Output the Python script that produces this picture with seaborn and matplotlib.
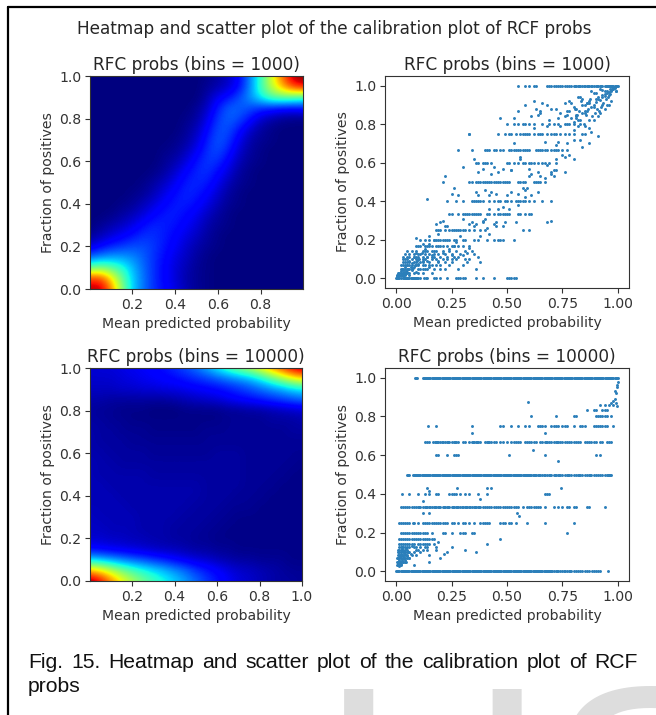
import numpy as np
import seaborn as sns
import matplotlib
matplotlib.use("Agg")
import matplotlib.pyplot as plt
from matplotlib.lines import Line2D

W, H = 656, 715

# ---- heat values read at x = 0, .05 ... 1 (columns), y = 0, .05 ... 1 (rows)
heat_1000 = [
 [.95,.95,.78,.52,.33,.24,.17,.13,.09,.05,.02,.01,0,0,0,0,0,0,0,0,0],
 [.85,.85,.68,.48,.33,.24,.17,.12,.08,.04,.02,.01,0,0,0,0,0,0,0,0,0],
 [.47,.50,.46,.40,.31,.23,.17,.12,.08,.05,.02,.01,0,0,0,0,0,0,0,0,0],
 [.22,.26,.28,.28,.26,.22,.17,.13,.09,.06,.03,.01,0,0,0,0,0,0,0,0,0],
 [.08,.12,.16,.18,.20,.20,.18,.14,.11,.07,.04,.02,.01,0,0,0,0,0,0,0,0],
 [.02,.05,.08,.11,.14,.17,.17,.15,.12,.09,.06,.03,.01,0,0,0,0,0,0,0,0],
 [0,.02,.04,.06,.09,.13,.16,.15,.14,.11,.08,.04,.02,.01,0,0,0,0,0,0,0],
 [0,0,.01,.03,.05,.08,.12,.15,.15,.13,.10,.06,.03,.01,0,0,0,0,0,0,0],
 [0,0,0,.01,.02,.05,.08,.12,.15,.15,.13,.09,.05,.02,.01,0,0,0,0,0,0],
 [0,0,0,0,.01,.02,.05,.09,.13,.16,.15,.12,.07,.03,.01,0,0,0,0,0,0],
 [0,0,0,0,0,.01,.03,.06,.10,.15,.16,.15,.10,.05,.02,.01,0,0,0,0,0],
 [0,0,0,0,0,0,.01,.03,.07,.12,.16,.17,.13,.08,.03,.01,0,0,0,0,0],
 [0,0,0,0,0,0,0,.02,.04,.08,.14,.18,.17,.11,.05,.02,.01,0,0,0,0],
 [0,0,0,0,0,0,0,.01,.02,.05,.10,.17,.20,.15,.07,.03,.01,0,0,0,0],
 [0,0,0,0,0,0,0,0,.01,.03,.07,.15,.21,.18,.10,.04,.02,.01,0,0,0],
 [0,0,0,0,0,0,0,0,0,.02,.05,.12,.20,.20,.14,.07,.03,.01,0,0,0],
 [0,0,0,0,0,0,0,0,0,.01,.03,.09,.18,.22,.20,.14,.07,.04,.02,.01,.01],
 [0,0,0,0,0,0,0,0,0,0,.02,.06,.15,.22,.22,.20,.17,.15,.13,.13,.14],
 [0,0,0,0,0,0,0,0,0,0,0,.04,.10,.14,.20,.27,.36,.45,.47,.45,.42],
 [0,0,0,0,0,0,0,0,0,0,0,.02,.04,.07,.13,.25,.42,.58,.72,.85,.90],
 [0,0,0,0,0,0,0,0,0,0,0,.01,.03,.06,.12,.25,.40,.60,.78,.95,1.00],
]
heat_10000 = [
 [1.00,.92,.78,.66,.56,.49,.43,.38,.33,.28,.23,.18,.14,.11,.08,.07,.05,.04,.03,.03,.02],
 [.72,.66,.58,.50,.44,.39,.35,.31,.27,.23,.18,.15,.12,.09,.07,.06,.05,.04,.03,.02,.02],
 [.33,.31,.28,.25,.22,.20,.17,.15,.12,.10,.08,.07,.05,.04,.03,.03,.02,.02,.02,.01,.01],
 [.12,.11,.10,.09,.08,.07,.06,.05,.05,.04,.03,.03,.02,.02,.01,.01,.01,.01,.01,.01,.01],
 [.07,.07,.06,.06,.05,.05,.04,.04,.03,.03,.02,.02,.01,.01,.01,.01,.01,.01,.01,.01,.01],
 [.06,.06,.05,.05,.05,.04,.04,.04,.03,.03,.03,.02,.02,.01,.01,.01,.01,.01,.01,.01,.01],
 [.06,.05,.05,.05,.05,.04,.04,.04,.04,.03,.03,.03,.02,.02,.01,.01,.01,.01,.01,.01,.01],
 [.05,.05,.05,.05,.04,.04,.04,.04,.04,.04,.03,.03,.03,.02,.02,.02,.01,.01,.01,.01,.01],
 [.05,.05,.05,.04,.04,.04,.04,.04,.04,.04,.04,.03,.03,.03,.02,.02,.02,.01,.01,.01,.01],
 [.05,.05,.04,.04,.04,.04,.04,.04,.04,.04,.04,.03,.03,.03,.03,.02,.02,.02,.01,.01,.01],
 [.05,.04,.04,.04,.04,.04,.03,.03,.03,.03,.03,.03,.03,.03,.03,.02,.02,.02,.02,.01,.01],
 [.05,.04,.04,.03,.03,.03,.03,.03,.03,.03,.03,.03,.03,.03,.03,.02,.02,.02,.02,.02,.01],
 [.04,.04,.03,.03,.03,.03,.02,.02,.02,.02,.02,.02,.03,.03,.03,.02,.02,.02,.02,.02,.02],
 [.04,.03,.03,.03,.02,.02,.02,.02,.02,.02,.02,.02,.02,.02,.02,.02,.02,.02,.02,.02,.02],
 [.04,.03,.03,.02,.02,.02,.01,.01,.01,.01,.01,.02,.02,.02,.02,.02,.02,.02,.02,.03,.03],
 [.03,.03,.02,.02,.01,.01,.01,.01,.01,.01,.01,.01,.01,.02,.02,.02,.02,.03,.03,.03,.04],
 [.03,.02,.02,.01,.01,.01,0,0,0,.01,.01,.01,.01,.02,.02,.03,.03,.04,.05,.06,.07],
 [.04,.04,.03,.03,.03,.03,.03,.03,.04,.05,.06,.07,.08,.10,.12,.13,.15,.17,.19,.21,.23],
 [.06,.06,.06,.07,.07,.08,.08,.09,.09,.10,.11,.12,.13,.15,.17,.20,.23,.26,.29,.33,.36],
 [.07,.07,.07,.08,.09,.10,.11,.12,.13,.15,.17,.19,.22,.25,.28,.31,.37,.46,.55,.64,.70],
 [.07,.08,.08,.09,.10,.11,.12,.14,.17,.20,.24,.30,.37,.45,.52,.58,.66,.76,.85,.94,1.00],
]

# ---- scatter, bins = 1000: x values by fraction level
a_levels = {
 1.0: [.55,.58,.6,.62,.63,.68,.69,.7,.71,.72,.73,.74,.75,.76,.77,.78,.79,.8,.805,.81,.82,.825,.83,.84,.845,.85,.86,.865,.87,.88,.885,.89,.9,.905,.91,.92,.925,.93,.94,.945,.95,.955,.96,.965,.97,.975,.98,.985,.99,.995,1.0],
 0.0: [0,.005,.01,.015,.02,.03,.035,.04,.045,.05,.055,.06,.065,.07,.075,.08,.085,.09,.095,.1,.11,.125,.135,.14,.17,.18,.2,.23,.27,.28,.29,.3,.31,.36,.39,.44,.5,.51,.52,.53,.54],
 .5: [.33,.34,.36,.37,.38,.39,.4,.41,.42,.43,.44,.45,.46,.47,.48,.49,.5,.51,.55,.56,.57,.58,.62,.63,.64,.65,.67],
 .333: [.24,.25,.28,.3,.31,.32,.33,.34,.35,.36,.37,.38,.41,.42,.44,.46,.47,.48,.49,.5,.51,.55,.56,.58,.6,.61],
 .667: [.28,.34,.4,.41,.42,.44,.45,.47,.48,.51,.52,.53,.54,.55,.56,.57,.58,.59,.6,.63,.64,.65,.66,.67,.68,.7,.71,.72,.73,.75,.77],
 .25: [.18,.19,.2,.22,.24,.25,.26,.27,.28,.29,.3,.31,.33,.35,.38,.4,.57,.6],
 .75: [.33,.46,.49,.51,.52,.54,.56,.57,.58,.59,.6,.62,.64,.65,.66,.68,.7,.71,.72,.74,.76,.78,.8,.84,.85],
 .4: [.23,.27,.3,.34,.35,.36,.37,.38,.39,.42,.44,.46,.47,.49,.5,.52,.54,.55,.56,.57,.58,.6,.62,.66,.7],
 .6: [.36,.37,.39,.4,.41,.43,.5,.51,.53,.55,.57,.58,.6,.61,.62,.64,.66,.67,.69,.72],
 .2: [.11,.13,.15,.17,.18,.19,.2,.21,.22,.23,.24,.26,.27,.3,.31,.35,.37,.41,.44,.46,.47,.48,.53],
 .8: [.5,.53,.55,.57,.58,.6,.62,.66,.69,.71,.73,.76,.78,.8,.83],
 .167: [.09,.1,.11,.13,.14,.15,.16,.18,.19,.2,.23,.25,.26,.28,.3,.33],
 .143: [.05,.07,.09,.12,.13,.14,.16,.17,.21,.24,.27,.31,.34],
 .125: [.04,.06,.08,.1,.11,.13,.15,.17,.19,.22,.25,.29,.35],
 .111: [.03,.05,.06,.08,.09,.1,.12,.14,.16,.2,.23,.26,.28,.37],
 .1: [.03,.04,.05,.07,.09,.1,.12,.13,.16,.18,.21,.25,.27,.31,.33],
 .083: [.03,.04,.05,.06,.08,.09,.11,.12,.15,.19,.22,.25,.32,.38],
 .067: [.02,.03,.04,.05,.06,.07,.09,.1,.13,.15,.18,.2,.24,.3],
 .05: [.02,.025,.03,.04,.05,.06,.07,.1,.12,.14,.17,.2,.22,.28,.36],
 .03: [.01,.015,.02,.03,.04,.05,.06,.08,.1,.12,.16],
 .015: [.005,.01,.015,.02,.025,.03,.04],
}
# ---- scatter, bins = 1000: off-level points
a_extra_x = [.14,.21,.22,.25,.28,.26,.3,.33,.35,.37,.39,.4,.43,.45,.47,.52,.55,.53,.58,.61,.63,.65,.68,.7,.71,.72,.67,.7,.44,.46,.42,.48,.52,.56,.6,.64,.68,.72,.76,.8,.84,.87,.91,.88,.85,.8,.75,.72,.78,.82,.86,.89,.92,.94,.96,.97,.93,.9,.87,.84,.81,.77,.73,.69,.65,.61,.58,.55,.62,.66,.7,.74,.78,.82,.86,.9,.94,.98,.96,.92,.88,.84,.8,.76,.72,.68,.64,.83,.87,.91,.95,.99,.97,.93,.89,.85,.81,.77,.09,.12,.15,.18,.21,.24,.27,.3,.33,.36,.39,.42,.45,.48,.16,.2,.23,.26,.29,.32,.35,.38,.41,.44,
 .005,.01,.015,.02,.025,.03,.035,.04,.045,.05,.055,.06,.065,.07,.075,.08,.085,.09,.095,.105,.115,.12,.13,.14,.15,.16,.17,.18,.19,.21,.22,.02,.03,.04,.05,.06,.07,.08,.09,.1,.11,.12,.13,.14,.15,.17,.19,.21,.23,.25,
 .985,.98,.975,.97,.965,.96,.955,.95,.945,.94,.935,.93,.925,.92,.915,.91,.905,.9,.895,.89,.885,.88,.875,.87,.865,.86,.855,.85,.845,.84,.835,.83,.825,.82,.815,.81,.805,.8,.79,.78,.77,.76,.99,.985,.975,.965,.95,.94,.93,.91,.89,.87,.85,.83,.81,.79,
 .34,.37,.4,.43,.46,.49,.52,.55,.58,.61,.64,.67,.7,.73,.76,.5,.53,.56,.59,.62,.65,.68,.71,.74,.77,.8,.3,.33,.36,.39,.42,.45,.48,.51,.54,.57,.6]
a_extra_y = [.41,.5,.53,.44,.43,.47,.58,.75,.62,.55,.57,.46,.54,.44,.83,.45,.44,.83,.42,.43,.88,.86,.29,.3,.53,.56,.52,.54,.58,.55,.43,.57,.56,.63,.57,.55,.59,.62,.55,.77,.68,.78,.74,.76,.79,.72,.64,.69,.64,.82,.87,.82,.86,.88,.9,.92,.94,.93,.91,.9,.85,.85,.83,.82,.87,.84,.9,.87,.92,.91,.88,.86,.92,.94,.91,.96,.97,.99,.95,.98,.97,.93,.89,.91,.88,.9,.85,.72,.7,.84,.9,.97,.97,.9,.89,.86,.83,.87,.21,.18,.22,.28,.3,.15,.19,.12,.16,.28,.3,.23,.29,.27,.07,.29,.27,.17,.22,.13,.27,.22,.26,.28,
 .01,.02,.012,.03,.02,.045,.035,.06,.04,.07,.05,.09,.06,.08,.055,.11,.07,.13,.09,.1,.13,.09,.15,.11,.18,.12,.2,.14,.23,.17,.27,.04,.01,.025,.035,.02,.045,.06,.035,.075,.05,.07,.05,.09,.06,.11,.09,.13,.1,.12,
 .99,.985,.98,.975,.955,.965,.94,.96,.93,.945,.91,.95,.89,.925,.87,.94,.88,.915,.86,.9,.84,.89,.93,.82,.88,.91,.85,.87,.8,.86,.92,.82,.87,.79,.85,.84,.88,.81,.83,.87,.8,.84,.97,.995,.995,.985,.97,.955,.975,.93,.96,.92,.9,.94,.88,.91,
 .29,.43,.31,.45,.36,.29,.56,.38,.46,.54,.45,.71,.55,.71,.63,.43,.7,.62,.47,.78,.53,.79,.56,.79,.7,.62,.31,.28,.45,.29,.36,.27,.37,.36,.29,.47,.53]

# ---- scatter, bins = 10000: x values by fraction level
b_levels = {
 1.0: [.085,.09,.095,.12,.125,.13,.135,.14,.145,.15,.155,.16,.165,.17,.175,.18,.185,.19,.195,.2,.205,.21,.215,.22,.225,.23,.235,.24,.245,.25,.255,.26,.265,.27,.275,.28,.285,.29,.295,.3,.305,.31,.315,.32,.325,.33,.335,.34,.345,.35,.355,.36,.365,.37,.375,.38,.385,.39,.395,.4,.405,.41,.415,.42,.425,.43,.435,.44,.445,.45,.455,.46,.465,.47,.475,.48,.485,.49,.495,.5,.505,.51,.515,.52,.525,.53,.535,.54,.545,.55,.555,.56,.565,.57,.575,.58,.585,.59,.595,.6,.605,.61,.615,.62,.625,.63,.635,.64,.645,.65,.655,.66,.665,.67,.675,.68,.685,.69,.695,.7,.705,.71,.715,.72,.725,.73,.735,.74,.745,.75,.755,.76,.765,.77,.775,.78,.785,.79,.795,.8,.805,.81,.815,.82,.825,.83,.835,.84,.845,.85,.855,.86,.865,.87,.875,.88,.885,.89,.895,.9,.905,.91,.915,.92,.925,.93,.935,.94,.945,.95,.955,.96,.965,.97,.975,.98,.985,.99,.995,1.0],
 0.0: [0,.005,.01,.015,.02,.025,.03,.035,.04,.045,.05,.055,.06,.065,.07,.075,.08,.085,.09,.095,.1,.105,.11,.115,.12,.125,.13,.135,.14,.145,.15,.155,.16,.165,.17,.175,.18,.185,.19,.195,.2,.205,.21,.215,.22,.225,.23,.235,.24,.245,.25,.255,.26,.265,.27,.275,.28,.285,.29,.295,.3,.305,.31,.315,.32,.325,.33,.335,.34,.345,.35,.355,.36,.365,.37,.375,.38,.385,.39,.395,.4,.405,.41,.415,.42,.425,.43,.435,.44,.445,.45,.455,.46,.465,.47,.475,.48,.485,.49,.495,.5,.505,.51,.515,.52,.525,.53,.535,.54,.545,.55,.555,.56,.565,.57,.575,.58,.585,.59,.595,.6,.605,.61,.615,.62,.625,.63,.635,.64,.645,.65,.655,.66,.665,.67,.675,.68,.685,.69,.695,.7,.705,.71,.72,.725,.73,.74,.75,.755,.76,.77,.78,.785,.79,.8,.81,.82,.83,.84,.85,.86,.87,.885,.89,.9,.91,.92,.955],
 .5: [.05,.055,.06,.075,.08,.085,.09,.095,.1,.105,.11,.115,.12,.125,.13,.135,.14,.145,.15,.155,.16,.165,.17,.175,.18,.185,.19,.195,.2,.205,.21,.215,.22,.225,.23,.235,.24,.245,.25,.255,.26,.265,.27,.275,.28,.285,.29,.295,.3,.305,.31,.315,.32,.325,.33,.335,.34,.345,.35,.355,.36,.365,.37,.375,.38,.385,.39,.395,.4,.405,.41,.415,.42,.425,.43,.435,.44,.445,.45,.455,.46,.465,.47,.475,.48,.485,.49,.495,.5,.505,.51,.515,.52,.525,.53,.535,.54,.545,.55,.555,.56,.565,.57,.575,.58,.585,.59,.595,.6,.605,.61,.615,.62,.625,.63,.64,.645,.65,.66,.665,.67,.68,.69,.695,.7,.71,.715,.72,.73,.735,.74,.75,.76,.77,.775,.78,.79,.8,.81,.82,.825,.83,.84,.85,.86,.87,.875,.88,.89,.9,.91,.92,.93,.94,.95,.955,.96,.965,.97],
 .667: [.13,.14,.15,.165,.175,.18,.185,.19,.2,.205,.21,.22,.23,.235,.24,.25,.26,.265,.27,.28,.3,.31,.33,.34,.345,.35,.36,.365,.37,.38,.4,.41,.415,.42,.43,.44,.45,.47,.48,.5,.52,.53,.54,.55,.56,.58,.59,.6,.61,.62,.63,.65,.66,.67,.675,.68,.69,.7,.71,.72,.725,.73,.74,.75,.76,.77,.78,.79,.8,.81,.82,.83,.85,.86,.87,.88,.89,.9,.92,.93,.95,.96,.97],
 .333: [.02,.03,.04,.05,.06,.07,.08,.09,.1,.105,.11,.12,.13,.135,.14,.15,.155,.16,.17,.175,.18,.19,.195,.2,.21,.215,.22,.23,.235,.24,.25,.255,.26,.27,.275,.28,.29,.295,.3,.31,.315,.32,.33,.335,.34,.35,.355,.36,.37,.375,.38,.39,.4,.41,.42,.43,.44,.45,.46,.47,.48,.49,.5,.51,.52,.53,.54,.55,.57,.59,.6,.61,.62,.63,.64,.65,.67,.71,.73,.75,.77,.78,.8,.81,.86,.87,.94],
 .25: [.015,.02,.03,.04,.05,.06,.075,.08,.1,.12,.13,.14,.15,.16,.17,.18,.19,.2,.21,.22,.23,.25,.26,.28,.3,.31,.33,.35,.38,.39,.4,.41,.42,.47,.48,.49,.51,.52,.54,.59,.67,.8],
 .75: [.145,.18,.34,.47,.48,.52,.55,.58,.6,.64,.65,.66,.67,.7,.71,.72,.73,.75,.76,.77,.8,.83,.84,.85,.89,.9,.91,.92,.93,.94,.95,.98],
 .4: [.025,.06,.1,.13,.15,.18,.19,.24,.25,.26,.27,.29,.31,.33,.37,.41,.67,.68,.69],
 .6: [.18,.19,.23,.26,.27,.28,.51,.67,.9,.92],
 .8: [.61,.72,.8,.81,.9,.91,.92,.93,.94,.95,.97],
 .833: [.86,.89,.9,.93,.94,.95],
 .857: [.92,.94,.96,.98],
 .2: [.02,.03,.04,.05,.06,.07,.08,.09,.1,.11,.12,.13,.14,.16,.21,.22,.25,.29,.3,.31,.34,.35,.77],
 .167: [.015,.02,.03,.04,.05,.06,.07,.08,.09,.1,.11,.12,.13,.14,.15,.16,.17,.47],
 .143: [.015,.02,.03,.04,.05,.06,.07,.08,.1,.11,.12,.13,.14,.15,.17,.41],
 .125: [.015,.02,.025,.03,.04,.05,.06,.08,.09,.11,.13,.14,.18,.25],
 .111: [.01,.015,.02,.025,.03,.04,.05,.09,.1,.12,.14,.18,.31],
 .1: [.01,.015,.02,.03,.04,.05,.06,.08,.11,.23,.36],
 .083: [.01,.015,.02,.025,.03,.04,.05,.07,.09,.15],
 .067: [.005,.01,.015,.02,.03,.04,.05,.06,.2],
 .05: [.005,.01,.015,.02,.03,.04,.045,.15],
 .033: [.005,.01,.015,.02,.08],
}
# ---- scatter, bins = 10000: off-level points
b_extra_x = [.595,.615,.67,.73,.745,.34,.545,.555,.12,.12,.14,.15,.38,.41,.43,.275,.15,.985,.99,.995,.995,1.0,.985,.99,.995,.98,.97,.215,.19,
 .01,.012,.014,.016,.018,.02,.022,.024,.026,.028,.03,.032,.034,.036,.04,.042,.045,.05,.055,.06,.065,.07]
b_extra_y = [.875,.625,.714,.571,.429,.714,.3,.286,.364,.3,.429,.417,.375,.429,.429,.429,.3,.93,.92,.95,.96,.98,.89,.87,.855,.88,.87,.09,.15,
 .04,.06,.03,.08,.05,.07,.09,.04,.11,.06,.08,.05,.1,.07,.09,.06,.12,.08,.1,.07,.09,.13]

cap_line1 = "Fig. 15. Heatmap and scatter plot of the calibration plot of RCF"
cap_line2 = "probs"


def flatten(levels, ex, ey):
    xs = [x for vals in levels.values() for x in vals] + list(ex)
    ys = [y for y, vals in levels.items() for _ in vals] + list(ey)
    return xs, ys


sns.set_theme(style="white", rc={"axes.edgecolor": "#333333", "axes.linewidth": 0.8,
                                 "xtick.bottom": True, "ytick.left": True,
                                 "xtick.color": "#333333", "ytick.color": "#333333",
                                 "text.color": "#262626", "axes.labelcolor": "#333333",
                                 "font.family": "DejaVu Sans"})
fig = plt.figure(figsize=(W / 100, H / 100), dpi=100, facecolor="white")


def make_axes(l, t, r, b):
    return fig.add_axes([l / W, 1 - b / H, (r - l) / W, (b - t) / H])


def style(ax, title):
    ax.set_title(title, fontsize=12.2, pad=4.5)
    ax.set_xlabel("Mean predicted probability", fontsize=10.1, labelpad=3.5)
    ax.set_ylabel("Fraction of positives", fontsize=10.1, labelpad=3)
    ax.tick_params(labelsize=10.1, length=3.4, width=0.8, pad=3)


def heat(ax, grid, title, xmax):
    ax.imshow(np.array(grid), origin="lower", cmap="jet", vmin=0, vmax=1, aspect="auto",
              interpolation="bicubic", extent=[-.025, 1.025, -.025, 1.025])
    ax.set_xlim(.001, xmax)
    ax.set_ylim(0, 1)
    ax.set_xticks([t for t in (.2, .4, .6, .8, 1.0) if t <= xmax])
    ax.set_yticks([0, .2, .4, .6, .8, 1.0])
    style(ax, title)


def scatter(ax, levels, ex, ey, title):
    xs, ys = flatten(levels, ex, ey)
    sns.scatterplot(x=xs, y=ys, s=4.5, color="#2b7fba", linewidth=0, ax=ax)
    ax.set_xlim(-.05, 1.05)
    ax.set_ylim(-.05, 1.05)
    ax.set_xticks([0, .25, .5, .75, 1.0])
    ax.set_xticklabels(["0.00", "0.25", "0.50", "0.75", "1.00"])
    ax.set_yticks([0, .2, .4, .6, .8, 1.0])
    style(ax, title)


heat(make_axes(90, 76, 303, 289), heat_1000, "RFC probs (bins = 1000)", .999)
scatter(make_axes(385, 76, 629, 288), a_levels, a_extra_x, a_extra_y, "RFC probs (bins = 1000)")
heat(make_axes(90, 368, 302, 581), heat_10000, "RFC probs (bins = 10000)", 1.0)
scatter(make_axes(385, 368, 629, 581), b_levels, b_extra_x, b_extra_y, "RFC probs (bins = 10000)")

fig.text(334 / W, 1 - 29 / H, "Heatmap and scatter plot of the calibration plot of RCF probs",
         ha="center", va="center", fontsize=12.2)

# watermark, cut by the page edge as in the reference
fig.text(320 / W, 1 - 905 / H, "US", fontsize=225, color="#dddddd",
         family="Liberation Sans", ha="left", va="baseline", zorder=-1)

# caption, justified between the page margins
cap_kw = dict(family="Liberation Sans", fontsize=15.2, color="#111111", va="center", ha="left")
renderer = fig.canvas.get_renderer()
words = [fig.text(0, 1 - 662 / H, w, **cap_kw) for w in cap_line1.split()]
widths = [t.get_window_extent(renderer).width for t in words]
gap = (638 - 28 - sum(widths)) / (len(words) - 1)
pos = 28.0
for t, w in zip(words, widths):
    t.set_x(pos / W)
    pos += w + gap
fig.text(28 / W, 1 - 686 / H, cap_line2, **cap_kw)

# page frame
fig.add_artist(Line2D([7.5 / W, 7.5 / W], [0, 1 - 7 / H], color="black", lw=1.6))
fig.add_artist(Line2D([7.5 / W, 1], [1 - 7 / H, 1 - 7 / H], color="black", lw=1.6))

fig.savefig("out.png", dpi=100)
